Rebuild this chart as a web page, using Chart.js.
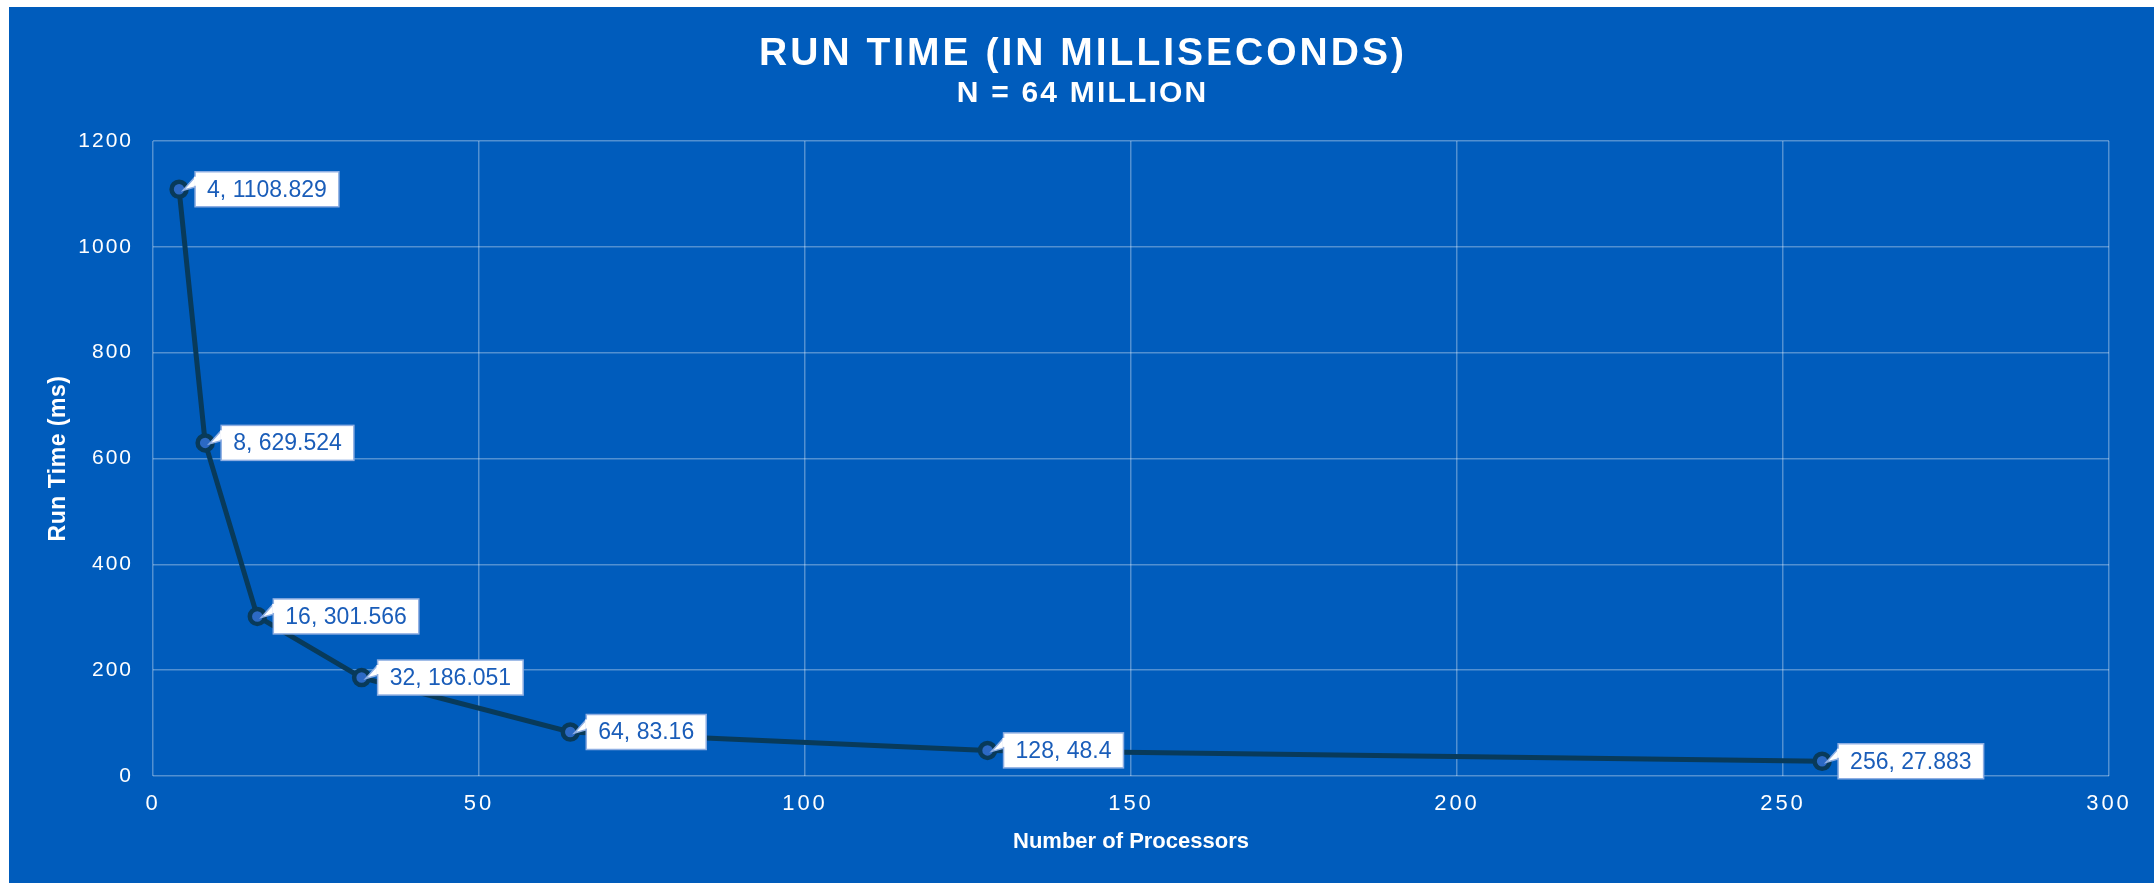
<!DOCTYPE html>
<html>
<head>
<meta charset="utf-8">
<title>Run Time (in milliseconds)</title>
<script src="https://cdn.jsdelivr.net/npm/chart.js@4.4.1/dist/chart.umd.min.js"></script>
<style>
  html, body { margin: 0; padding: 0; background: #ffffff; }
  #wrap { position: relative; width: 2154px; height: 883px; }
  canvas { display: block; }
</style>
</head>
<body>
<div id="wrap"><canvas id="chart" width="2154" height="883"></canvas></div>
<script>
// Run time measurements, N = 64 million
const processors = [4, 8, 16, 32, 64, 128, 256];
const runTimeMs = [1108.829, 629.524, 301.566, 186.051, 83.16, 48.4, 27.883];

// Axis ranges and tick steps
const xRange = [0, 300];
const xStep = 50;
const yRange = [0, 1200];
const yStep = 200;

const chartTitle = 'RUN TIME (IN MILLISECONDS)';
const chartSubtitle = 'N = 64 MILLION';
const xAxisTitle = 'Number of Processors';
const yAxisTitle = 'Run Time (ms)';

const BG = '#005cbc';
const LINE = '#083a5a';
const FONT = '"Liberation Sans", Arial, sans-serif';

const points = processors.map((p, i) => ({ x: p, y: runTimeMs[i] }));

// Panel background with thin white margin on the top and left
const panelPlugin = {
  id: 'panel',
  beforeDraw(chart) {
    const ctx = chart.ctx;
    ctx.save();
    ctx.fillStyle = '#ffffff';
    ctx.fillRect(0, 0, chart.width, chart.height);
    ctx.fillStyle = BG;
    ctx.fillRect(9, 7, chart.width - 9, chart.height - 7);
    ctx.restore();
  },
  // tick labels are drawn slightly spaced out, a bit more on the x axis
  afterUpdate(chart) {
    const spacing = { x: '3px', y: '2px' };
    Object.keys(spacing).forEach(id => {
      const scale = chart.scales[id];
      if (scale && !scale._spaced) {
        const drawLabels = scale.drawLabels.bind(scale);
        scale.drawLabels = function (area) {
          const ctx = this.ctx;
          const prev = ctx.letterSpacing;
          ctx.letterSpacing = spacing[id];
          drawLabels(area);
          ctx.letterSpacing = prev;
        };
        scale._spaced = true;
      }
    });
  }
};

// Title, subtitle and axis titles
const titlesPlugin = {
  id: 'titles',
  afterDraw(chart) {
    const ctx = chart.ctx;
    const area = chart.chartArea;
    const cx = (9 + chart.width) / 2;
    ctx.save();
    ctx.fillStyle = '#ffffff';
    ctx.textAlign = 'center';
    ctx.textBaseline = 'alphabetic';
    ctx.font = 'bold 39px ' + FONT;
    ctx.letterSpacing = '3px';
    ctx.fillText(chartTitle, cx + 1.5, 65);
    ctx.font = 'bold 30px ' + FONT;
    ctx.letterSpacing = '2.2px';
    ctx.fillText(chartSubtitle, cx + 1.1, 102);
    ctx.letterSpacing = '0px';
    ctx.font = 'bold 22px ' + FONT;
    ctx.fillText(xAxisTitle, (area.left + area.right) / 2, 848);
    ctx.translate(65, (area.top + area.bottom) / 2);
    ctx.rotate(-Math.PI / 2);
    ctx.font = 'bold 23px ' + FONT;
    ctx.letterSpacing = '0.5px';
    ctx.fillText(yAxisTitle, 0, 0);
    ctx.restore();
  }
};

// Callout labels next to each point: "x, y"
const calloutPlugin = {
  id: 'callouts',
  afterDatasetsDraw(chart) {
    const ctx = chart.ctx;
    const meta = chart.getDatasetMeta(0);
    ctx.save();
    ctx.font = '23px ' + FONT;
    ctx.letterSpacing = '0px';
    meta.data.forEach((el, i) => {
      const text = processors[i] + ', ' + runTimeMs[i];
      const tw = ctx.measureText(text).width;
      const w = tw + 24;
      const h = 35;
      const bx = el.x + 16;
      const by = el.y - h / 2;
      // pointer wedge
      ctx.beginPath();
      ctx.moveTo(bx + 1, by + 4);
      ctx.lineTo(el.x + 4, el.y + 1);
      ctx.lineTo(bx + 1, by + 15);
      ctx.closePath();
      ctx.fillStyle = '#ffffff';
      ctx.fill();
      ctx.strokeStyle = '#8eaee2';
      ctx.lineWidth = 1.5;
      ctx.stroke();
      // box
      ctx.fillStyle = '#ffffff';
      ctx.fillRect(bx, by, w, h);
      ctx.strokeRect(bx, by, w, h);
      // cover the wedge joint
      ctx.fillRect(bx - 1, by + 5, 4, 9);
      ctx.fillStyle = '#1a5db9';
      ctx.textAlign = 'left';
      ctx.textBaseline = 'middle';
      ctx.fillText(text, bx + 12, el.y + 1);
    });
    ctx.restore();
  }
};

new Chart(document.getElementById('chart'), {
  type: 'scatter',
  data: {
    datasets: [{
      label: 'Run Time (ms)',
      data: points,
      showLine: true,
      borderColor: LINE,
      borderWidth: 5,
      pointRadius: 7.5,
      pointBorderWidth: 4.5,
      pointBackgroundColor: '#2c69c4',
      pointBorderColor: LINE,
      tension: 0
    }]
  },
  options: {
    responsive: false,
    animation: false,
    devicePixelRatio: 1,
    layout: { padding: { top: 141, right: 45, left: 0, bottom: 0 } },
    plugins: {
      legend: { display: false },
      tooltip: { enabled: false },
      title: { display: false }
    },
    scales: {
      x: {
        type: 'linear',
        min: xRange[0],
        max: xRange[1],
        ticks: {
          stepSize: xStep,
          color: '#ffffff',
          font: { family: FONT, size: 22 },
          padding: 15,
          callback: v => String(v)
        },
        grid: { color: 'rgba(255,255,255,0.32)', lineWidth: 1.5, drawTicks: false },
        border: { display: false },
        afterFit(scale) { scale.height = 107; }
      },
      y: {
        type: 'linear',
        min: yRange[0],
        max: yRange[1],
        ticks: {
          stepSize: yStep,
          color: '#ffffff',
          font: { family: FONT, size: 21 },
          padding: 20,
          callback: v => String(v)
        },
        grid: { color: 'rgba(255,255,255,0.32)', lineWidth: 1.5, drawTicks: false },
        border: { display: false },
        afterFit(scale) { scale.width = 153; }
      }
    }
  },
  plugins: [panelPlugin, titlesPlugin, calloutPlugin]
});
</script>
</body>
</html>
